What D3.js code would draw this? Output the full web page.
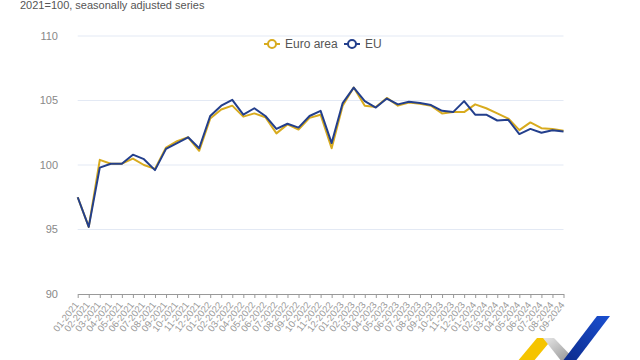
<!DOCTYPE html>
<html>
<head>
<meta charset="utf-8">
<script src="https://cdn.jsdelivr.net/npm/d3@7"></script>
<style>
  html, body { margin: 0; padding: 0; background: #fff; }
  svg { display: block; font-family: "Liberation Sans", Arial, sans-serif; }
</style>
</head>
<body>
<svg id="chart" width="640" height="360"></svg>
<script>
const months = ["01-2021","02-2021","03-2021","04-2021","05-2021","06-2021","07-2021","08-2021","09-2021","10-2021","11-2021","12-2021",
  "01-2022","02-2022","03-2022","04-2022","05-2022","06-2022","07-2022","08-2022","09-2022","10-2022","11-2022","12-2022",
  "01-2023","02-2023","03-2023","04-2023","05-2023","06-2023","07-2023","08-2023","09-2023","10-2023","11-2023","12-2023",
  "01-2024","02-2024","03-2024","04-2024","05-2024","06-2024","07-2024","08-2024","09-2024"];
const euroArea = [97.5, 95.2, 100.4, 100.1, 100.1, 100.5, 100.0, 99.7, 101.35, 101.85, 102.15, 101.1,
  103.6, 104.3, 104.6, 103.75, 104.0, 103.7, 102.45, 103.15, 102.75, 103.65, 103.9, 101.3,
  104.6, 106.0, 104.6, 104.5, 105.2, 104.6, 104.85, 104.75, 104.6, 104.0, 104.1, 104.1,
  104.7, 104.4, 104.0, 103.6, 102.7, 103.3, 102.85, 102.8, 102.65];
const eu = [97.5, 95.2, 99.8, 100.1, 100.1, 100.8, 100.45, 99.6, 101.25, 101.7, 102.15, 101.3,
  103.8, 104.6, 105.05, 103.9, 104.4, 103.8, 102.8, 103.2, 102.9, 103.8, 104.2, 101.7,
  104.8, 106.0, 104.95, 104.45, 105.15, 104.7, 104.9, 104.8, 104.65, 104.2, 104.1, 104.95,
  103.9, 103.9, 103.45, 103.5, 102.4, 102.8, 102.5, 102.7, 102.6];
const yTicks = [90, 95, 100, 105, 110];
const seriesNames = ["Euro area", "EU"];
const seriesColors = ["#d8ab1e", "#233f8c"];
const subtitle = "2021=100, seasonally adjusted series";

const svg = d3.select("#chart");
const x = d3.scalePoint().domain(months).range([77.7, 563.5]);
const y = d3.scaleLinear().domain([90, 110]).range([294, 36]);

svg.append("text").attr("x", 20).attr("y", 9)
  .attr("font-size", 11).attr("fill", "#555").text(subtitle);

// gridlines
svg.append("g").selectAll("line").data(yTicks.filter(d => d !== 90)).join("line")
  .attr("x1", 77.7).attr("x2", 563.5)
  .attr("y1", d => y(d)).attr("y2", d => y(d))
  .attr("stroke", "#e3e9f4").attr("stroke-width", 1);

// y labels
svg.append("g").selectAll("text").data(yTicks).join("text")
  .attr("x", 58).attr("y", d => y(d)).attr("dy", "0.35em")
  .attr("text-anchor", "end").attr("font-size", 11).attr("fill", "#888")
  .text(d => d);

// x axis
const xAxis = d3.axisBottom(x).tickSize(4).tickSizeOuter(0);
const gx = svg.append("g").attr("transform", "translate(0,294)").call(xAxis);
gx.select(".domain").attr("stroke", "#999");
gx.selectAll(".tick line").attr("stroke", "#999");
gx.selectAll(".tick text")
  .attr("font-size", 9.5).attr("fill", "#999")
  .attr("font-family", "'Liberation Sans', Arial, sans-serif")
  .attr("text-anchor", "end")
  .attr("y", 0).attr("dy", 0)
  .attr("transform", "translate(1,11) rotate(-52)");

// lines
const data = [euroArea, eu];
const line = d3.line().x((d, i) => x(months[i])).y(d => y(d));
svg.append("g").selectAll("path").data(data).join("path")
  .attr("d", line).attr("fill", "none")
  .attr("stroke", (d, i) => seriesColors[i]).attr("stroke-width", 2)
  .attr("stroke-linejoin", "round");

// legend
const legendPos = [{mx: 272, tx: 285}, {mx: 352, tx: 365}];
const lg = svg.append("g").selectAll("g").data(seriesNames).join("g");
lg.append("line").attr("x1", (d, i) => legendPos[i].mx - 8).attr("x2", (d, i) => legendPos[i].mx + 8)
  .attr("y1", 44).attr("y2", 44).attr("stroke", (d, i) => seriesColors[i]).attr("stroke-width", 2);
lg.append("circle").attr("cx", (d, i) => legendPos[i].mx).attr("cy", 44).attr("r", 4)
  .attr("fill", "#fff").attr("stroke", (d, i) => seriesColors[i]).attr("stroke-width", 2);
lg.append("text").attr("x", (d, i) => legendPos[i].tx).attr("y", 44).attr("dy", "0.35em")
  .attr("font-size", 12).attr("fill", "#555").text(d => d);

// logo
const defs = svg.append("defs");
const gg = defs.append("linearGradient").attr("id", "grayg").attr("x1", "0").attr("y1", "0").attr("x2", "1").attr("y2", "1");
gg.append("stop").attr("offset", "0").attr("stop-color", "#e8e8e8");
gg.append("stop").attr("offset", "1").attr("stop-color", "#8a8a8a");
const bg = defs.append("linearGradient").attr("id", "blueg").attr("x1", "1").attr("y1", "0").attr("x2", "0").attr("y2", "1");
bg.append("stop").attr("offset", "0").attr("stop-color", "#1a4fd0");
bg.append("stop").attr("offset", "1").attr("stop-color", "#0c2a8a");
svg.append("polygon").attr("points", "537,338 553,338 533,362 517,362").attr("fill", "#f5c400");
svg.append("polygon").attr("points", "543,338 554,338 577,362 562,362").attr("fill", "url(#grayg)");
svg.append("polygon").attr("points", "597,316 610,316 575,362 562,362").attr("fill", "url(#blueg)");
</script>
</body>
</html>
